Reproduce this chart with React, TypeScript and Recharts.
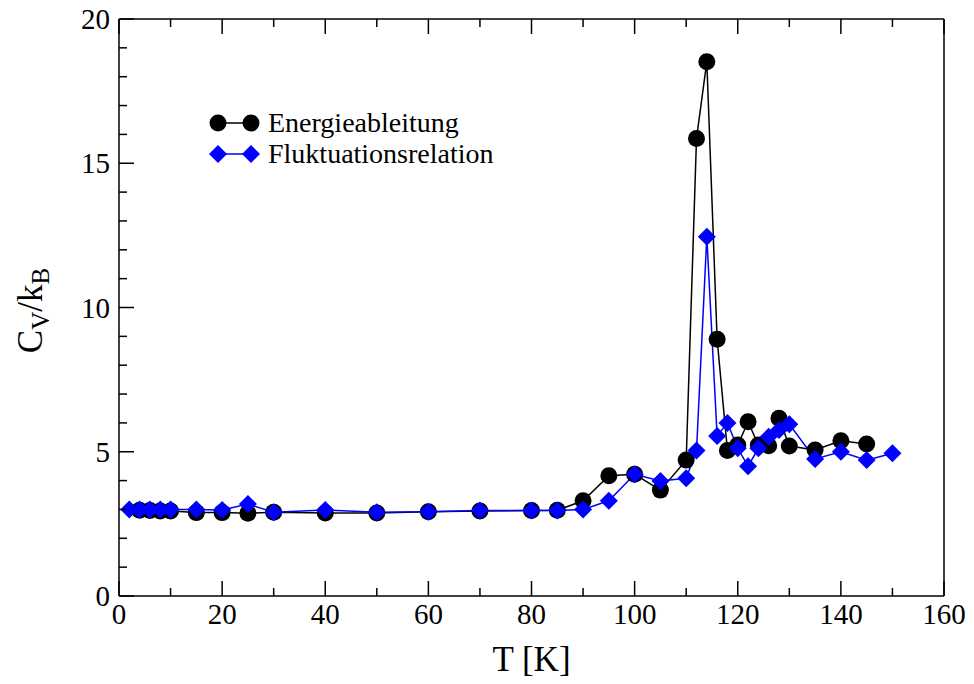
import { LineChart, Line, XAxis, YAxis, Legend } from 'recharts';

// temperatures in K
const temps = [2, 4, 6, 8, 10, 15, 20, 25, 30, 40, 50, 60, 70, 80, 85, 90, 95, 100, 105, 110, 112, 114, 116, 118, 120, 122, 124, 126, 128, 130, 135, 140, 145, 150];

// C_V / k_B from energy derivative
const energie = [null, 2.97, 2.96, 2.95, 2.95, 2.89, 2.89, 2.87, 2.9, 2.88, 2.88, 2.92, 2.95, 2.96, 2.97, 3.3, 4.17, 4.22, 3.67, 4.71, 15.86, 18.52, 8.9, 5.04, 5.23, 6.04, 5.23, 5.21, 6.16, 5.2, 5.06, 5.38, 5.27, null];

// C_V / k_B from fluctuation relation
const fluktuation = [3.0, 3.0, 3.0, 3.0, 3.0, 3.0, 2.98, 3.19, 2.9, 2.98, 2.9, 2.92, 2.96, 2.96, 2.96, 3.0, 3.3, 4.22, 3.99, 4.08, 5.04, 12.45, 5.55, 6.0, 5.12, 4.5, 5.12, 5.52, 5.75, 5.95, 4.75, 5.0, 4.71, 4.95];

const xTicks = [0, 10, 20, 30, 40, 50, 60, 70, 80, 90, 100, 110, 120, 130, 140, 150, 160];
const yTicks = [0, 1, 2, 3, 4, 5, 6, 7, 8, 9, 10, 11, 12, 13, 14, 15, 16, 17, 18, 19, 20];

const data = temps.map((t, i) => ({ T: t, E: energie[i], F: fluktuation[i] }));

const FONT = '"Liberation Serif", "Times New Roman", serif';

function BottomTick({ x, y, payload }: any) {
  const major = payload.value % 20 === 0;
  return (
    <g>
      <line x1={x} y1={y} x2={x} y2={y - (major ? 15 : 8)} stroke="#000" strokeWidth={1.5} />
      {major && (
        <text x={x} y={y + 28} textAnchor="middle" fontFamily={FONT} fontSize={29} fill="#000">
          {payload.value}
        </text>
      )}
    </g>
  );
}

function TopTick({ x, y, payload }: any) {
  const major = payload.value % 20 === 0;
  return <line x1={x} y1={y} x2={x} y2={y + (major ? 15 : 8)} stroke="#000" strokeWidth={1.5} />;
}

function LeftTick({ x, y, payload }: any) {
  const major = payload.value % 5 === 0;
  return (
    <g>
      <line x1={x} y1={y} x2={x + (major ? 15 : 8)} y2={y} stroke="#000" strokeWidth={1.5} />
      {major && (
        <text x={x - 9} y={y} dy="0.35em" textAnchor="end" fontFamily={FONT} fontSize={29} fill="#000">
          {payload.value}
        </text>
      )}
    </g>
  );
}

function RightTick({ x, y, payload }: any) {
  const major = payload.value % 5 === 0;
  return <line x1={x} y1={y} x2={x - (major ? 15 : 8)} y2={y} stroke="#000" strokeWidth={1.5} />;
}

function XLabel({ viewBox }: any) {
  return (
    <text x={viewBox.x + viewBox.width / 2} y={viewBox.y + 75} textAnchor="middle" fontFamily={FONT} fontSize={35} fill="#000">
      T [K]
    </text>
  );
}

function YLabel({ viewBox }: any) {
  const cx = viewBox.x + viewBox.width - 77;
  const cy = viewBox.y + viewBox.height / 2 + 3;
  return (
    <text x={cx} y={cy} transform={`rotate(-90 ${cx} ${cy})`} textAnchor="middle" fontFamily={FONT} fontSize={35} fill="#000">
      C<tspan fontSize={25} dy={7}>V</tspan>
      <tspan dy={-7}>/k</tspan>
      <tspan fontSize={25} dy={7}>B</tspan>
    </text>
  );
}

const circleDot = (p: any) => {
  if (p.cx == null || p.cy == null || p.value == null) return <g key={p.index} />;
  return <circle key={p.index} cx={p.cx} cy={p.cy} r={8.5} fill="#000" />;
};

const diamondDot = (p: any) => {
  if (p.cx == null || p.cy == null || p.value == null) return <g key={p.index} />;
  const s = 9;
  return (
    <polygon
      key={p.index}
      points={`${p.cx},${p.cy - s} ${p.cx + s},${p.cy} ${p.cx},${p.cy + s} ${p.cx - s},${p.cy}`}
      fill="#0000ff"
    />
  );
};

function LegendBox() {
  return (
    <svg width={330} height={72} style={{ display: 'block' }}>
      <line x1={18} y1={23} x2={51} y2={23} stroke="#000" strokeWidth={1.5} />
      <circle cx={18} cy={23} r={8.5} fill="#000" />
      <circle cx={51} cy={23} r={8.5} fill="#000" />
      <text x={68} y={32} fontFamily={FONT} fontSize={28} fill="#000">Energieableitung</text>
      <line x1={18} y1={54} x2={51} y2={54} stroke="#0000ff" strokeWidth={1.5} />
      <polygon points="18,45 27,54 18,63 9,54" fill="#0000ff" />
      <polygon points="51,45 60,54 51,63 42,54" fill="#0000ff" />
      <text x={68} y={63} fontFamily={FONT} fontSize={28} fill="#000">Fluktuationsrelation</text>
    </svg>
  );
}

const axisStyle = { stroke: '#000', strokeWidth: 1.5 };

export default function App() {
  return (
    <div style={{ fontFamily: FONT }}>
      <style>{`.recharts-surface { overflow: visible; }`}</style>
      <LineChart width={958} height={668} data={data} margin={{ top: 10, right: 21, bottom: 79, left: 110 }}>
        <XAxis
          type="number"
          dataKey="T"
          domain={[0, 160]}
          ticks={xTicks}
          interval={0}
          height={1}
          tickSize={0}
          tickMargin={0}
          tickLine={false}
          tick={<BottomTick />}
          axisLine={axisStyle}
          label={<XLabel />}
        />
        <XAxis
          xAxisId="top"
          orientation="top"
          type="number"
          dataKey="T"
          domain={[0, 160]}
          ticks={xTicks}
          interval={0}
          height={1}
          tickSize={0}
          tickMargin={0}
          tickLine={false}
          tick={<TopTick />}
          axisLine={axisStyle}
        />
        <YAxis
          type="number"
          domain={[0, 20]}
          ticks={yTicks}
          interval={0}
          width={1}
          tickSize={0}
          tickMargin={0}
          tickLine={false}
          tick={<LeftTick />}
          axisLine={axisStyle}
          label={<YLabel />}
        />
        <YAxis
          yAxisId="right"
          orientation="right"
          type="number"
          domain={[0, 20]}
          ticks={yTicks}
          interval={0}
          width={1}
          tickSize={0}
          tickMargin={0}
          tickLine={false}
          tick={<RightTick />}
          axisLine={axisStyle}
        />
        <Legend
          layout="horizontal"
          verticalAlign="middle"
          content={() => <LegendBox />}
          wrapperStyle={{ position: 'absolute', left: 192, top: 92, width: 330, height: 72 }}
        />
        <Line
          dataKey="E"
          name="Energieableitung"
          stroke="#000"
          strokeWidth={1.5}
          dot={circleDot}
          activeDot={false}
          isAnimationActive={false}
        />
        <Line
          dataKey="F"
          name="Fluktuationsrelation"
          stroke="#0000ff"
          strokeWidth={1.5}
          dot={diamondDot}
          activeDot={false}
          isAnimationActive={false}
        />
      </LineChart>
    </div>
  );
}
